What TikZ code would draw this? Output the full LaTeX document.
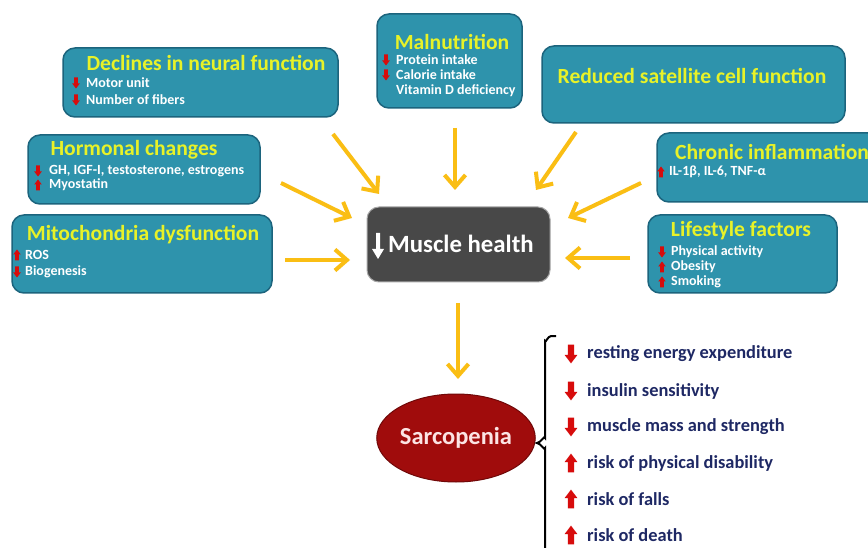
\documentclass[tikz,border=0pt]{standalone}
\usepackage{fontspec}
\setmainfont{Carlito}
\usetikzlibrary{shapes.geometric,arrows.meta}

\definecolor{boxfill}{RGB}{46,147,172}
\definecolor{boxedge}{RGB}{28,100,125}
\definecolor{titleyel}{RGB}{232,242,40}
\definecolor{flowyel}{RGB}{250,190,20}
\definecolor{arrowred}{RGB}{215,12,12}
\definecolor{navy}{RGB}{30,40,100}
\definecolor{healthgray}{RGB}{72,72,72}
\definecolor{sarcored}{RGB}{160,12,12}

\tikzset{
  box/.style={draw=boxedge, line width=1.5pt, fill=boxfill, rounded corners=12pt, inner sep=0pt},
  title/.style={text=titleyel, font=\fontsize{21.6}{24}\selectfont\bfseries, inner sep=0pt},
  item/.style={anchor=west, text=white, font=\fontsize{14}{15}\selectfont\bfseries, inner sep=0pt},
  outcome/.style={anchor=west, text=navy, font=\fontsize{18.4}{20}\selectfont\bfseries, inner sep=0pt},
  flow/.style={draw=flowyel, line width=4pt, -{Straight Barb[length=12pt,width=21pt]}},
  redarrow/.pic={\fill[arrowred] (-1.8,-5.5) -- (1.8,-5.5) -- (1.8,0.5) -- (3.8,0.5)
                 -- (0,5.5) -- (-3.8,0.5) -- (-1.8,0.5) -- cycle;}
}

\begin{document}
\begin{tikzpicture}[x=1pt,y=-1pt]
    % Canvas
    \useasboundingbox[fill=white] (0,0) rectangle (868,548);

    % Cause boxes
    \node[box, minimum width=275, minimum height=69] (neural) at (200.5,82.5) {};
    \node[box, minimum width=145, minimum height=94] (malnut) at (449.5,61) {};
    \node[box, minimum width=303, minimum height=77] (satellite) at (693.5,84.5) {};
    \node[box, minimum width=232, minimum height=69] (hormonal) at (144,169.5) {};
    \node[box, minimum width=223, minimum height=69] (chronic) at (768.5,167.5) {};
    \node[box, minimum width=260, minimum height=78] (mito) at (142,254) {};
    \node[box, minimum width=189, minimum height=78] (lifestyle) at (742.5,254) {};

    % Box titles
    \node[title] (neural-t) at (206,63) {Declines in neural function};
    \node[title] (malnut-t) at (452,42) {Malnutrition};
    \node[title] (satellite-t) at (692,76) {Reduced satellite cell function};
    \node[title] (hormonal-t) at (134,150) {Hormonal changes};
    \node[title, anchor=west] (chronic-t) at (675,152) {Chronic inflammation};
    \node[title] (mito-t) at (143,235) {Mitochondria dysfunction};
    \node[title] (lifestyle-t) at (741,231) {Lifestyle factors};

    % Box items (1 = down, -1 = up)
    \foreach \y/\d/\t [count=\i] in {83/1/Motor unit, 100/1/Number of fibers} {
        \pic[yscale=\d] at (76,\y) {redarrow};
        \node[item] (neural-\i) at (86,\y) {\t};
    }
    \foreach \y/\d/\t [count=\i] in {60/1/Protein intake, 75/1/Calorie intake} {
        \pic[yscale=\d] at (386,\y) {redarrow};
        \node[item] (malnut-\i) at (396,\y) {\t};
    }
    \node[item] (malnut-3) at (396,91) {Vitamin D deficiency};
    \foreach \y/\d/\t [count=\i] in {171/1/{GH, IGF-I, testosterone, estrogens}, 185/-1/Myostatin} {
        \pic[yscale=\d] at (38,\y) {redarrow};
        \node[item] (hormonal-\i) at (49,\y) {\t};
    }
    \pic[yscale=-1] at (661,172) {redarrow};
    \node[item] (chronic-1) at (669,172) {IL-1β, IL-6, TNF-α};
    \foreach \y/\d/\t [count=\i] in {255/-1/ROS, 272/1/Biogenesis} {
        \pic[yscale=\d] at (17,\y) {redarrow};
        \node[item] (mito-\i) at (25,\y) {\t};
    }
    \foreach \y/\d/\t [count=\i] in {252/1/Physical activity, 267/-1/Obesity, 282/-1/Smoking} {
        \pic[yscale=\d] at (662,\y) {redarrow};
        \node[item] (lifestyle-\i) at (671,\y) {\t};
    }

    % Muscle health
    \node[draw=gray!70, line width=1pt, fill=healthgray, rounded corners=12pt,
          minimum width=183, minimum height=75] (health) at (458.5,244.5) {};
    \node[anchor=west, inner sep=0pt, text=white, font=\fontsize{24.8}{28}\selectfont\bfseries]
          (health-t) at (388,244) {Muscle health};
    \fill[white] (376,233) -- (380,233) -- (380,249) -- (384,249)
                 -- (378,259) -- (372,249) -- (376,249) -- cycle;

    % Sarcopenia
    \node[ellipse, draw=sarcored!70!black, line width=1pt, fill=sarcored, inner sep=0pt,
          minimum width=152, minimum height=88, text={rgb,255:red,252;green,228;blue,228},
          font=\fontsize{24.5}{28}\selectfont\bfseries] (sarco) at (456,438) {Sarcopenia};

    % Arrow ends
    \coordinate (neural-out) at (333,134);     \coordinate (neural-in) at (379,194);
    \coordinate (malnut-out) at (455,128);     \coordinate (malnut-in) at (455,190);
    \coordinate (satellite-out) at (576,132);  \coordinate (satellite-in) at (536,190);
    \coordinate (hormonal-out) at (281,183);   \coordinate (hormonal-in) at (352,218);
    \coordinate (chronic-out) at (641,183);    \coordinate (chronic-in) at (568,218);
    \coordinate (mito-out) at (285,260);       \coordinate (mito-in) at (350,260);
    \coordinate (lifestyle-out) at (630,258);  \coordinate (lifestyle-in) at (565,258);
    \coordinate (health-out) at (458,303);     \coordinate (sarco-in) at (458,379);

    % Arrows
    \foreach \a in {neural, malnut, satellite, hormonal, chronic, mito, lifestyle}
        \draw[flow] (\a-out) -- (\a-in);
    \draw[flow] (health-out) -- (sarco-in);

    % Brace
    \draw[line width=2pt] (556,336) -- (551,336) to[out=180,in=-90] (545,341) -- (545,438)
        to[out=90,in=0] (537,443) to[out=0,in=-90] (545,448) -- (545,560);

    % Consequences
    \foreach \y/\d/\t [count=\i] in {354/1/resting energy expenditure, 391/1/insulin sensitivity,
                                      427/1/muscle mass and strength, 463/-1/risk of physical disability,
                                      499/-1/risk of falls, 535/-1/risk of death} {
        \pic[scale=1.7, yscale=\d] at (571,\y) {redarrow};
        \node[outcome] (out-\i) at (587,\y) {\t};
    }
\end{tikzpicture}
\end{document}
